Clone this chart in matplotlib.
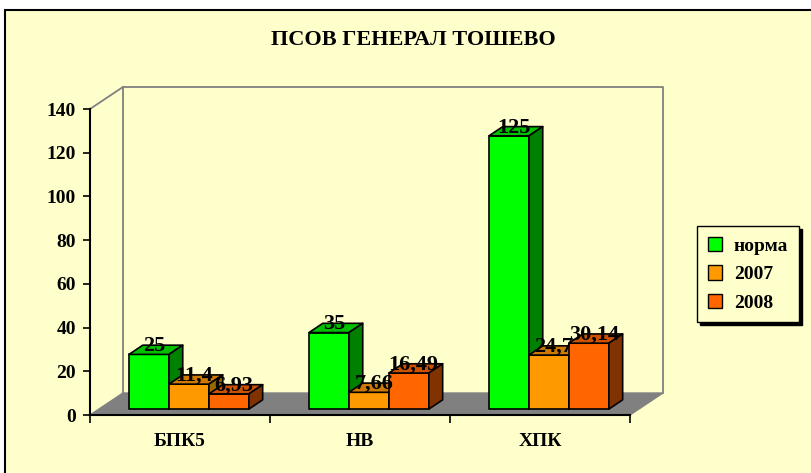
import matplotlib
matplotlib.use("Agg")
import matplotlib.pyplot as plt
from matplotlib.patches import Polygon, Rectangle, Patch

plt.rcParams["font.family"] = ["Liberation Serif", "DejaVu Serif"]
plt.rcParams["font.weight"] = "bold"

TITLE = "ПСОВ ГЕНЕРАЛ ТОШЕВО"
categories = ["БПК5", "НВ", "ХПК"]
series = ["норма", "2007", "2008"]
norma = [25, 35, 125]
y2007 = [11.4, 7.66, 24.7]
y2008 = [6.93, 16.49, 30.14]
labels_norma = ["25", "35", "125"]
labels_2007 = ["11,4", "7,66", "24,7"]
labels_2008 = ["6,93", "16,49", "30,14"]

BG = "#FFFFCC"
FRONT = ["#00FF00", "#FF9900", "#FF6600"]
TOP = ["#00C000", "#CC7A00", "#CC5200"]
SIDE = ["#008000", "#996600", "#803300"]

YMAX = 140
DX = 0.183   # depth offset in category units
DY = 10.06   # depth offset in value units
F0, F1 = 0.27, 0.69  # bar depth range (fraction of floor depth)
W = 0.222
FS = 14

fig = plt.figure(figsize=(8.11, 4.73), dpi=100)
fig.patch.set_facecolor("white")
fig.patches.append(Rectangle((5 / 811, -0.1), 1.2, 1 - 10 / 473 + 0.1,
                             transform=fig.transFigure, facecolor=BG,
                             edgecolor="black", linewidth=1.5, zorder=-5))

ax = fig.add_axes([90 / 811, 58 / 473, 540 / 811, 306 / 473])
ax.patch.set_visible(False)
ax.set_xlim(0, 3)
ax.set_ylim(0, YMAX)
for s in ["top", "right"]:
    ax.spines[s].set_visible(False)
ax.spines["left"].set_linewidth(1.5)
ax.spines["bottom"].set_linewidth(1.5)

ax.set_yticks(range(0, YMAX + 1, 20))
ax.set_yticklabels([str(v) for v in range(0, YMAX + 1, 20)], fontsize=FS, fontweight="bold")
ax.tick_params(axis="y", length=5, width=1.2, pad=5)
ax.set_xticks([0, 1, 2, 3])
ax.set_xticklabels([])
ax.tick_params(axis="x", which="major", length=6, width=1.2)
ax.set_xticks([0.5, 1.5, 2.5], minor=True)
ax.set_xticklabels(categories, minor=True, fontsize=FS, fontweight="bold")
ax.tick_params(axis="x", which="minor", length=0, pad=13)

# floor and walls
ax.add_patch(Polygon([(0, 0), (3, 0), (3 + DX, DY), (DX, DY)], closed=True,
                     facecolor="#808080", edgecolor="#808080", clip_on=False, zorder=1))
wall = dict(color="#808080", linewidth=1.3, clip_on=False, zorder=1)
ax.plot([DX, DX, 3 + DX, 3 + DX], [DY, YMAX + DY, YMAX + DY, DY], **wall)
ax.plot([0, DX], [YMAX, YMAX + DY], **wall)

data = [norma, y2007, y2008]
labels = [labels_norma, labels_2007, labels_2008]
for i in range(len(categories)):
    for k in range(len(series)):
        v = data[k][i]
        x0 = i + 0.5 - 1.5 * W + k * W + F0 * DX
        y0 = F0 * DY
        ddx = (F1 - F0) * DX
        ddy = (F1 - F0) * DY
        pk = dict(edgecolor="black", linewidth=1.2, clip_on=False, zorder=3, joinstyle="round")
        ax.add_patch(Polygon([(x0, y0), (x0 + W, y0), (x0 + W, y0 + v), (x0, y0 + v)],
                             facecolor=FRONT[k], **pk))
        ax.add_patch(Polygon([(x0, y0 + v), (x0 + W, y0 + v), (x0 + W + ddx, y0 + v + ddy),
                              (x0 + ddx, y0 + v + ddy)], facecolor=TOP[k], **pk))
        ax.add_patch(Polygon([(x0 + W, y0), (x0 + W + ddx, y0 + ddy), (x0 + W + ddx, y0 + v + ddy),
                              (x0 + W, y0 + v)], facecolor=SIDE[k], **pk))
        ax.text(x0 + W / 2 + 0.35 * ddx, y0 + v + 0.9 * ddy, labels[k][i],
                ha="center", va="center", fontsize=FS + 2, fontweight="bold",
                zorder=5, clip_on=False)

fig.text(413 / 811, 1 - 40 / 473, TITLE, ha="center", va="center",
         fontsize=16, fontweight="bold")

handles = [Patch(facecolor=FRONT[k], edgecolor="black", linewidth=1.0) for k in range(3)]
leg = fig.legend(handles, series, loc="upper left", bbox_to_anchor=(697 / 811, 1 - 226 / 473),
                 frameon=True, fancybox=False, shadow={"color": "black", "alpha": 1},
                 facecolor=BG, edgecolor="black", framealpha=1,
                 prop={"size": FS, "weight": "bold", "family": "Liberation Serif"},
                 handlelength=0.75, handleheight=0.75, handletextpad=0.6,
                 labelspacing=0.55, borderpad=0.55, borderaxespad=0)
leg.get_frame().set_linewidth(1.0)

fig.savefig("out.png", dpi=100, facecolor=fig.get_facecolor())
